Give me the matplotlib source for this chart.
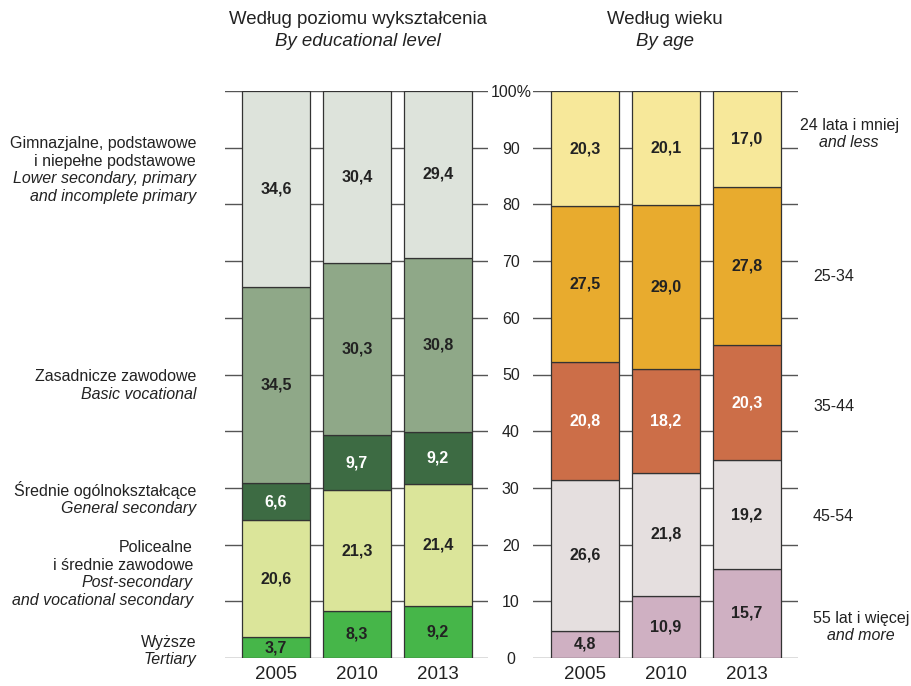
import matplotlib
matplotlib.use("Agg")
import matplotlib.pyplot as plt
import matplotlib.transforms as mtransforms
import numpy as np

plt.rcParams['font.family'] = ['Liberation Sans', 'DejaVu Sans']

years = ['2005', '2010', '2013']

# education (bottom -> top)
edu_tertiary = [3.7, 8.3, 9.2]
edu_postsec = [20.6, 21.3, 21.4]
edu_general = [6.6, 9.7, 9.2]
edu_basic = [34.5, 30.3, 30.8]
edu_lower = [34.6, 30.4, 29.4]

# age (bottom -> top)
age_55 = [4.8, 10.9, 15.7]
age_45 = [26.6, 21.8, 19.2]
age_35 = [20.8, 18.2, 20.3]
age_25 = [27.5, 29.0, 27.8]
age_24 = [20.3, 20.1, 17.0]

edu_series = [edu_tertiary, edu_postsec, edu_general, edu_basic, edu_lower]
edu_colors = ['#46b649', '#dbe59a', '#3d6b43', '#8fa888', '#dde3db']
edu_textc = ['#222222', '#222222', 'white', '#222222', '#222222']

age_series = [age_55, age_45, age_35, age_25, age_24]
age_colors = ['#cfb0c2', '#e5dfdf', '#cc6e48', '#e8ab2e', '#f7e89a']
age_textc = ['#222222', '#222222', 'white', '#222222', '#222222']

W, H = 911, 686
fig = plt.figure(figsize=(W / 100, H / 100), dpi=100)
ax1 = fig.add_axes([225 / W, 28 / H, 263 / W, 567 / H])
ax2 = fig.add_axes([533 / W, 28 / H, 265 / W, 567 / H])


def stacked(ax, series, colors, textc, xlim):
    x = np.arange(len(years))
    bottom = np.zeros(len(years))
    for vals, c, tc in zip(series, colors, textc):
        vals = np.array(vals)
        ax.bar(x, vals, 0.84, bottom=bottom, color=c, edgecolor='#333333',
               linewidth=0.9, zorder=3)
        for xi, v, b in zip(x, vals, bottom):
            ax.text(xi, b + v / 2, ('%.1f' % v).replace('.', ','), ha='center',
                    va='center', fontsize=11.5, fontweight='bold', color=tc, zorder=4)
        bottom += vals
    ax.set_xlim(*xlim)
    ax.set_ylim(0, 100)
    ax.set_yticks(range(0, 101, 10))
    ax.yaxis.grid(True, color='#555555', linewidth=1)
    ax.set_axisbelow(True)
    for s in ax.spines.values():
        s.set_visible(False)
    ax.set_xticks(x)
    ax.set_xticklabels(years, fontsize=13.5, color='#222222')
    ax.tick_params(axis='x', length=0, pad=6)
    ax.tick_params(axis='y', length=0)


stacked(ax1, edu_series, edu_colors, edu_textc, (-0.63, 2.617))
stacked(ax2, age_series, age_colors, age_textc, (-0.64, 2.63))
ax1.set_yticklabels([])
ax2.set_yticklabels([str(v) for v in range(0, 100, 10)] + ['100%'], fontsize=11.5,
                    color='#222222', ha='center')
ax2.tick_params(axis='y', pad=16)

step = 3.1  # line spacing in data units


def block(ax, xa, yc, lines, ha):
    tr = mtransforms.blended_transform_factory(ax.transAxes, ax.transData)
    n = len(lines)
    for i, (txt, it) in enumerate(lines):
        y = yc + (n - 1) / 2 * step - i * step
        ax.text(xa, y, txt, transform=tr, ha=ha, va='center', fontsize=11.5,
                style='italic' if it else 'normal', color='#222222')


xl = -0.11
block(ax1, xl, 86.1, [('Gimnazjalne, podstawowe', 0), ('i niepełne podstawowe', 0),
                      ('Lower secondary, primary', 1), ('and incomplete primary', 1)], 'right')
block(ax1, xl, 48.1, [('Zasadnicze zawodowe', 0), ('Basic vocational', 1)], 'right')
block(ax1, xl, 28.0, [('Średnie ogólnokształcące', 0), ('General secondary', 1)], 'right')
block(ax1, -0.122, 14.8, [('Policealne', 0), ('i średnie zawodowe', 0),
                          ('Post-secondary', 1), ('and vocational secondary', 1)], 'right')
block(ax1, xl, 1.2, [('Wyższe', 0), ('Tertiary', 1)], 'right')

block(ax2, 1.193, 92.4, [('24 lata i mniej', 0), ('and less', 1)], 'center')
block(ax2, 1.057, 67.2, [('25-34', 0)], 'left')
block(ax2, 1.057, 44.3, [('35-44', 0)], 'left')
block(ax2, 1.057, 24.9, [('45-54', 0)], 'left')
block(ax2, 1.238, 5.5, [('55 lat i więcej', 0), ('and more', 1)], 'center')

fig.text(358 / W, 1 - 20 / H, 'Według poziomu wykształcenia', ha='center', va='center',
         fontsize=13.4, color='#222222')
fig.text(358 / W, 1 - 41 / H, 'By educational level', ha='center', va='center',
         fontsize=13.4, style='italic', color='#222222')
fig.text(665 / W, 1 - 20 / H, 'Według wieku', ha='center', va='center',
         fontsize=13.4, color='#222222')
fig.text(665 / W, 1 - 41 / H, 'By age', ha='center', va='center',
         fontsize=13.4, style='italic', color='#222222')

fig.savefig('out.png', dpi=100)
